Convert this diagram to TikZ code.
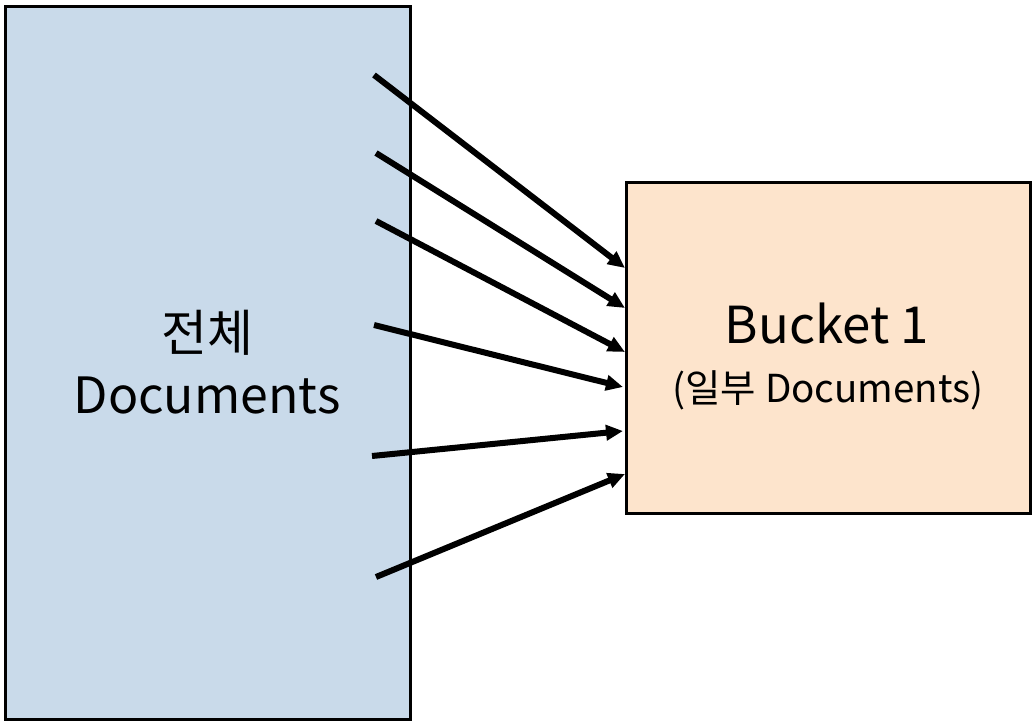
\documentclass[tikz,border=0pt]{standalone}
\usepackage{fontspec}
\setmainfont{Noto Sans CJK KR}
\usetikzlibrary{arrows.meta}
\definecolor{leftfill}{HTML}{C9DAEA}
\definecolor{rightfill}{HTML}{FDE4CC}
\tikzset{
  box/.style={draw=black, line width=2.5pt, inner sep=0pt},
  arr/.style={line width=6pt, -{Triangle[length=17pt,width=15pt]}},
  lbl/.style={inner sep=0pt, anchor=base},
}
\begin{document}
\begin{tikzpicture}[x=1pt,y=-1pt]
\useasboundingbox (0,0) rectangle (1036,726);
\fill[white] (0,0) rectangle (1036,726);
\node[box, fill=leftfill, minimum width=405pt, minimum height=713pt, anchor=north west] (all) at (4,5) {};
\node[box, fill=rightfill, minimum width=404pt, minimum height=331pt, anchor=north west] (bucket) at (625,181) {};
\node[inner sep=0pt, font=\fontsize{50}{58}\selectfont] (alltxt1) at (207,333) {전체};
\node[lbl, font=\fontsize{50}{58}\selectfont] (alltxt2) at (207,413) {Documents};
\node[lbl, font=\fontsize{51}{60}\selectfont] (buckettxt1) at (827,343) {Bucket 1};
\node[lbl, font=\fontsize{38.5}{46}\selectfont] (buckettxt2) at (828,402) {(일부 Documents)};
\coordinate (s1) at (374,75);
\coordinate (s2) at (376,153);
\coordinate (s3) at (376,221);
\coordinate (s4) at (374,325);
\coordinate (s5) at (372,456);
\coordinate (s6) at (376,577);
\coordinate (e1) at (625,268);
\coordinate (e2) at (625,308);
\coordinate (e3) at (625,352);
\coordinate (e4) at (623,387);
\coordinate (e5) at (623,431);
\coordinate (e6) at (625,474);
\foreach \i in {1,...,6} \draw[arr] (s\i) -- (e\i);
\end{tikzpicture}
\end{document}
